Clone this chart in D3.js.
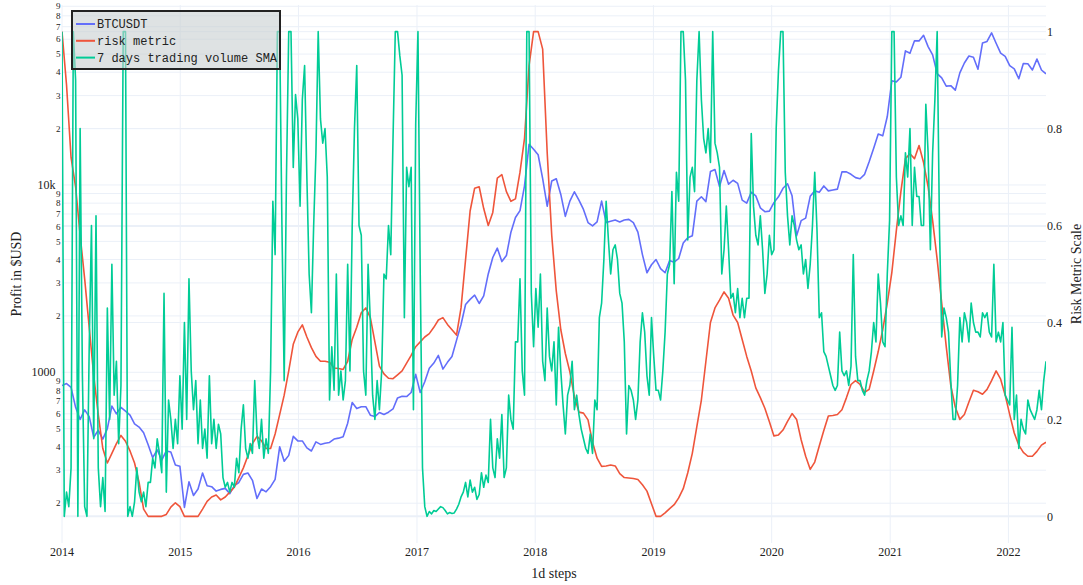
<!DOCTYPE html>
<html>
<head>
<meta charset="utf-8">
<script src="https://cdn.jsdelivr.net/npm/d3@7"></script>
<style>
    body { margin: 0; background: #fff; }
    text { font-family: "Liberation Serif", "Times New Roman", serif; fill: #222; }
</style>
</head>
<body>
<svg width="1083" height="585"></svg>
<script>
// first sample of every series, then one value every N days
var startDate = "2014-01-01";

// BTCUSDT close, one value every 14 days
var btcStep = 14;
var btcValues = [
    850, 870, 830, 650, 560, 630, 580, 450, 490, 440, 500, 660, 600, 650, 620, 590, 530, 510, 475, 410, 350, 385, 340, 380, 375, 320, 315,
    190, 260, 220, 238, 290, 248, 245, 232, 237, 240, 225, 248, 258, 285, 290, 265, 212, 238, 230, 245, 268, 400, 335, 360, 455, 430,
    430, 395, 380, 425, 412, 418, 422, 440, 445, 453, 535, 690, 640, 655, 655, 590, 580, 610, 595, 612, 637, 730, 745, 742, 780, 975,
    780, 890, 1050, 1120, 1230, 1040, 1130, 1215, 1480, 1800, 2300, 2450, 2580, 2330, 2560, 3350, 4100, 4600, 3900, 4200, 5600, 6700, 7300, 9900, 16500, 15500,
    14500, 10800, 7700, 10500, 10800, 8900, 6800, 8200, 9200, 8300, 7400, 6300, 6050, 6350, 8200, 6300, 6400, 6500, 6350, 6500, 6550, 6300, 5600, 4250, 3400, 3750,
    4000, 3580, 3400, 3950, 3870, 4050, 4900, 5230, 5350, 8200, 8650, 8150, 11800, 12100, 9800, 11950, 10100, 10600, 10200, 8300, 8000, 9150, 8750, 7550, 7200, 7250,
    8050, 8650, 9600, 10150, 8750, 5350, 6450, 6650, 8700, 9300, 9150, 9880, 9300, 9400, 9500, 11750, 11750, 11400, 10950, 10800, 11400, 13300, 15700, 18700, 18300, 23200,
    36000, 35500, 37600, 52000, 50500, 58900, 58800, 63000, 54800, 49500, 39300, 37300, 33700, 33900, 32100, 39700, 44800, 48800, 48100, 41500, 57300, 58400, 64900, 57100, 50600, 48600,
    43400, 41700, 36900, 44500, 44400, 41100, 47000, 41100, 39200
];

// risk metric (0..1), one value every 14 days
var riskStep = 14;
var riskValues = [
    1.0, 0.89, 0.74, 0.68, 0.58, 0.49, 0.39, 0.29, 0.21, 0.14, 0.11, 0.13, 0.15, 0.167, 0.155, 0.135, 0.11, 0.07, 0.015, 0, 0, 0, 0, 0.004, 0.019, 0.028, 0.02,
    0, 0, 0, 0, 0.015, 0.031, 0.04, 0.044, 0.034, 0.04, 0.05, 0.06, 0.08, 0.10, 0.125, 0.15, 0.165, 0.156, 0.14, 0.14, 0.17, 0.21, 0.25, 0.30, 0.355, 0.38,
    0.395, 0.37, 0.348, 0.33, 0.32, 0.32, 0.318, 0.306, 0.305, 0.303, 0.32, 0.365, 0.39, 0.42, 0.43, 0.41, 0.36, 0.31, 0.294, 0.285, 0.284, 0.292, 0.30, 0.316, 0.332, 0.35,
    0.36, 0.37, 0.377, 0.39, 0.405, 0.41, 0.396, 0.385, 0.374, 0.43, 0.53, 0.63, 0.677, 0.68, 0.635, 0.60, 0.627, 0.698, 0.705, 0.67, 0.65, 0.655, 0.71, 0.78, 0.93, 1.0,
    1.0, 0.964, 0.75, 0.58, 0.465, 0.385, 0.336, 0.298, 0.247, 0.215, 0.213, 0.199, 0.153, 0.12, 0.103, 0.104, 0.106, 0.104, 0.088, 0.08, 0.079, 0.078, 0.076, 0.065, 0.052, 0.026,
    0, 0, 0.007, 0.016, 0.024, 0.038, 0.057, 0.09, 0.13, 0.185, 0.24, 0.32, 0.40, 0.43, 0.446, 0.463, 0.45, 0.415, 0.40, 0.365, 0.33, 0.30, 0.265, 0.245, 0.223, 0.195,
    0.166, 0.168, 0.178, 0.196, 0.212, 0.20, 0.158, 0.124, 0.097, 0.112, 0.145, 0.177, 0.207, 0.208, 0.21, 0.22, 0.245, 0.272, 0.28, 0.272, 0.256, 0.262, 0.30, 0.34, 0.385, 0.44,
    0.503, 0.59, 0.67, 0.738, 0.748, 0.738, 0.765, 0.73, 0.68, 0.61, 0.53, 0.44, 0.35, 0.27, 0.225, 0.20, 0.21, 0.236, 0.26, 0.257, 0.252, 0.262, 0.28, 0.30, 0.283, 0.25,
    0.21, 0.172, 0.147, 0.132, 0.124, 0.124, 0.134, 0.147, 0.153
];

// 7 days trading volume SMA, scaled and clipped to 0..1, one value every 7 days
var volumeStep = 7;
var volumeValues = [
    1.0, 0.0, 0.05, 0.02, 0.1, 1.0, 0.9, 0.0, 0.8, 0.29,
    0.02, 0.0, 0.35, 0.6, 0.16, 0.62, 0.1, 0.02, 0.08, 0.01,
    0.43, 0.2, 0.52, 0.25, 0.32, 0.15, 0.27, 1.0, 1.0, 0.0,
    0.02, 0.0, 0.03, 0.1, 0.05, 0.03, 0.05, 0.02, 0.07, 0.07,
    0.12, 0.1, 0.16, 0.13, 0.09, 0.46, 0.05, 0.24, 0.2, 0.14,
    0.2, 0.15, 0.29, 0.18, 0.40, 0.2, 0.49, 0.3, 0.22, 0.28,
    0.15, 0.24, 0.14, 0.18, 0.12, 0.29, 0.15, 0.2, 0.14, 0.19,
    0.17, 0.08, 0.06, 0.07, 0.05, 0.07, 0.06, 0.12, 0.09, 0.18,
    0.23, 0.14, 0.12, 0.15, 0.13, 0.28, 0.17, 0.14, 0.2, 0.12,
    0.16, 0.13, 0.3, 0.65, 0.54, 1.0, 1.0, 0.6, 0.28, 0.7,
    1.0, 1.0, 0.72, 0.87, 0.82, 0.64, 0.86, 0.93, 0.7, 0.5,
    0.42, 0.6, 0.75, 1.0, 0.82, 0.77, 0.8, 0.7, 0.24, 0.35,
    0.26, 0.5, 0.25, 0.3, 0.24, 0.28, 0.52, 0.3, 0.6, 0.8,
    0.93, 0.6, 0.58, 0.3, 0.25, 0.52, 0.4, 0.25, 0.2, 0.28,
    0.22, 0.3, 0.5, 0.49, 0.6, 0.54, 0.78, 1.0, 1.0, 0.95,
    0.91, 0.41, 0.72, 0.68, 0.72, 0.22, 0.81, 1.0, 0.5, 0.1,
    0.02, 0.0, 0.01, 0.005, 0.012, 0.01, 0.015, 0.02, 0.018, 0.012,
    0.005, 0.008, 0.006, 0.007, 0.015, 0.025, 0.04, 0.05, 0.07, 0.04,
    0.075, 0.05, 0.06, 0.035, 0.045, 0.09, 0.06, 0.085, 0.07, 0.2,
    0.1, 0.08, 0.16, 0.12, 0.21, 0.08, 0.1, 0.25, 0.2, 0.18,
    0.36, 0.36, 0.49, 0.3, 0.25, 1.0, 1.0, 0.46, 0.35, 0.47,
    0.39, 0.5, 0.32, 0.28, 0.43, 0.33, 0.3, 0.36, 0.23, 0.39,
    0.3, 0.23, 0.17, 0.25, 0.27, 0.32, 0.22, 0.25, 0.21, 0.18,
    0.16, 0.14, 0.13, 0.17, 0.13, 0.24, 0.22, 0.41, 0.44, 0.53,
    0.65, 0.57, 0.5, 0.55, 0.56, 0.53, 0.46, 0.44, 0.36, 0.17,
    0.27, 0.26, 0.24, 0.2, 0.24, 0.36, 0.42, 0.38, 0.29, 0.25,
    0.41, 0.33, 0.26, 0.26, 0.24, 0.3, 0.38, 0.5, 0.52, 0.67,
    0.48, 0.71, 0.65, 1.0, 1.0, 0.9, 0.57, 0.7, 0.72, 0.67,
    0.9, 1.0, 0.86, 0.78, 0.75, 0.8, 0.73, 1.0, 0.77, 0.75,
    0.72, 0.5, 0.55, 0.64, 0.55, 0.45, 0.46, 0.42, 0.47, 0.41,
    0.45, 0.41, 0.45, 0.45, 0.79, 0.64, 0.58, 0.56, 0.62, 0.55,
    0.46, 0.5, 0.58, 0.54, 0.55, 0.8, 0.92, 1.0, 1.0, 0.71,
    0.62, 0.56, 0.62, 0.6, 0.57, 0.55, 0.56, 0.5, 0.53, 0.47,
    0.52, 0.6, 0.71, 0.59, 0.41, 0.42, 0.34, 0.33, 0.31, 0.29,
    0.27, 0.26, 0.27, 0.38, 0.3, 0.29, 0.3, 0.27, 0.31, 0.54,
    0.33, 0.28, 0.28, 0.26, 0.25, 0.28, 0.3, 0.34, 0.4, 0.36,
    0.5, 0.44, 0.36, 0.35, 0.5, 0.61, 1.0, 1.0, 0.7, 0.6,
    0.62, 0.6, 0.75, 0.7, 0.8, 0.6, 0.72, 0.66, 0.66, 0.6,
    0.6, 0.85, 0.75, 0.55, 0.75, 0.86, 1.0, 0.6, 0.37, 0.43,
    0.41, 0.38, 0.28, 0.2, 0.2, 0.27, 0.41, 0.36, 0.42, 0.4,
    0.36, 0.44, 0.4, 0.38, 0.38, 0.37, 0.42, 0.41, 0.42, 0.38,
    0.37, 0.52, 0.36, 0.38, 0.36, 0.4, 0.25, 0.24, 0.23, 0.39,
    0.2, 0.25, 0.14, 0.2, 0.18, 0.17, 0.24, 0.22, 0.21, 0.2,
    0.22, 0.26, 0.22, 0.28, 0.32
];

var seriesNames = ["BTCUSDT", "risk metric", "7 days trading volume SMA"];
var seriesColors = ["#636efa", "#ef553b", "#00cc96"];
var priceTicks = [200, 300, 400, 500, 600, 700, 800, 900, 1000,
    2000, 3000, 4000, 5000, 6000, 7000, 8000, 9000, 10000,
    20000, 30000, 40000, 50000, 60000, 70000, 80000, 90000];
var riskTicks = [0, 0.2, 0.4, 0.6, 0.8, 1];

var svg = d3.select("svg"),
    width = +svg.attr("width"),
    height = +svg.attr("height");

var plot = { left: 62, right: 1046, top: 5, bottom: 543 };

var t0 = d3.utcParse("%Y-%m-%d")(startDate);

function toSeries(values, step) {
    return values.map(function (v, i) {
        return { date: d3.utcDay.offset(t0, i * step), value: v };
    });
}

var btc = toSeries(btcValues, btcStep);
var risk = toSeries(riskValues, riskStep);
var volume = toSeries(volumeValues, volumeStep);

var x = d3.scaleUtc()
    .domain([t0, btc[btc.length - 1].date])
    .range([plot.left, plot.right]);

var yPrice = d3.scaleLog()
    .domain([122.6, 91400])
    .range([plot.bottom, plot.top]);

var yRisk = d3.scaleLinear()
    .domain([-0.055, 1.055])
    .range([plot.bottom, plot.top]);

var gridColor = "#ebf0f8";

// grid
var grid = svg.append("g");

grid.selectAll("line.py")
    .data(priceTicks)
    .enter()
    .append("line")
    .attr("x1", plot.left).attr("x2", plot.right)
    .attr("y1", function (d) { return yPrice(d); })
    .attr("y2", function (d) { return yPrice(d); })
    .attr("stroke", gridColor);

grid.selectAll("line.ry")
    .data(riskTicks)
    .enter()
    .append("line")
    .attr("x1", plot.left).attr("x2", plot.right)
    .attr("y1", function (d) { return yRisk(d); })
    .attr("y2", function (d) { return yRisk(d); })
    .attr("stroke", gridColor)
    .attr("stroke-width", function (d) { return d === 0 ? 2 : 1; });

var years = x.ticks(d3.utcYear.every(1));

grid.selectAll("line.vx")
    .data(years)
    .enter()
    .append("line")
    .attr("x1", function (d) { return x(d); })
    .attr("x2", function (d) { return x(d); })
    .attr("y1", plot.top).attr("y2", plot.bottom)
    .attr("stroke", gridColor);

// axis labels
function isDecade(v) {
    var l = Math.log10(v);
    return Math.abs(l - Math.round(l)) < 1e-9;
}

svg.append("g")
    .selectAll("text")
    .data(priceTicks)
    .enter()
    .append("text")
    .attr("x", function (d) { return isDecade(d) ? plot.left - 6.5 : plot.left - 1.5; })
    .attr("y", function (d) { return yPrice(d); })
    .attr("dy", "0.35em")
    .attr("text-anchor", "end")
    .attr("font-size", function (d) { return isDecade(d) ? "12px" : "9px"; })
    .text(function (d) {
        if (!isDecade(d)) return String(d).charAt(0);
        return d >= 10000 ? d3.format("~s")(d) : String(d);
    });

svg.append("g")
    .selectAll("text")
    .data(riskTicks)
    .enter()
    .append("text")
    .attr("x", plot.right + 1)
    .attr("y", function (d) { return yRisk(d); })
    .attr("dy", "0.35em")
    .attr("font-size", "12px")
    .text(function (d) { return d3.format("~g")(d); });

svg.append("g")
    .selectAll("text")
    .data(years)
    .enter()
    .append("text")
    .attr("x", function (d) { return x(d); })
    .attr("y", 556)
    .attr("text-anchor", "middle")
    .attr("font-size", "12px")
    .text(d3.utcFormat("%Y"));

svg.append("text")
    .attr("x", (plot.left + plot.right) / 2)
    .attr("y", 578)
    .attr("text-anchor", "middle")
    .attr("font-size", "14px")
    .text("1d steps");

svg.append("text")
    .attr("transform", "translate(21," + (plot.top + plot.bottom) / 2 + ") rotate(-90)")
    .attr("text-anchor", "middle")
    .attr("font-size", "14px")
    .text("Profit in $USD");

svg.append("text")
    .attr("transform", "translate(1081," + (plot.top + plot.bottom) / 2 + ") rotate(-90)")
    .attr("text-anchor", "middle")
    .attr("font-size", "14px")
    .text("Risk Metric Scale");

// traces
svg.append("defs")
    .append("clipPath")
    .attr("id", "plotclip")
    .append("rect")
    .attr("x", plot.left).attr("y", plot.top)
    .attr("width", plot.right - plot.left)
    .attr("height", plot.bottom - plot.top);

var traces = svg.append("g").attr("clip-path", "url(#plotclip)");

var priceLine = d3.line()
    .x(function (d) { return x(d.date); })
    .y(function (d) { return yPrice(d.value); });

var riskLine = d3.line()
    .x(function (d) { return x(d.date); })
    .y(function (d) { return yRisk(d.value); });

[[btc, priceLine], [risk, riskLine], [volume, riskLine]].forEach(function (s, i) {
    traces.append("path")
        .datum(s[0])
        .attr("d", s[1])
        .attr("fill", "none")
        .attr("stroke", seriesColors[i])
        .attr("stroke-width", 1.6)
        .attr("stroke-linejoin", "round");
});

// legend
var legend = svg.append("g");

legend.append("rect")
    .attr("x", 72).attr("y", 11)
    .attr("width", 208).attr("height", 58)
    .attr("fill", "rgba(200, 206, 208, 0.6)")
    .attr("stroke", "#222")
    .attr("stroke-width", 2);

var item = legend.selectAll("g")
    .data(seriesNames)
    .enter()
    .append("g")
    .attr("transform", function (d, i) { return "translate(0," + (24 + i * 16.8) + ")"; });

item.append("line")
    .attr("x1", 76).attr("x2", 95)
    .attr("stroke", function (d, i) { return seriesColors[i]; })
    .attr("stroke-width", 2);

item.append("text")
    .attr("x", 97)
    .attr("dy", "0.35em")
    .attr("font-size", "12px")
    .style("font-family", "'Liberation Mono', 'Courier New', monospace")
    .text(function (d) { return d; });
</script>
</body>
</html>
